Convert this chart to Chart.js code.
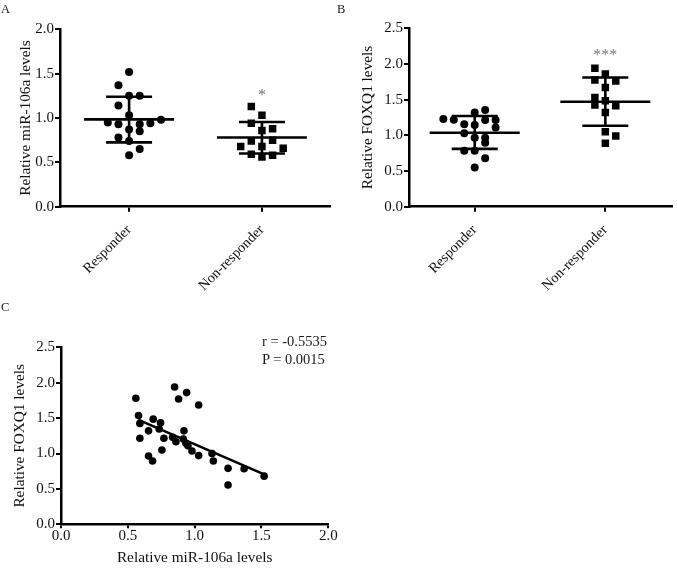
<!DOCTYPE html>
<html>
<head>
<meta charset="utf-8">
<script src="https://cdn.jsdelivr.net/npm/chart.js@4.4.0/dist/chart.umd.min.js"></script>
<style>
  body { margin: 0; background: #fff; }
  #page { position: relative; width: 677px; height: 568px; overflow: hidden; font-family: 'Liberation Serif', 'Times New Roman', serif; }
  .box { position: absolute; }
  .txt { position: absolute; line-height: 1; color: #1a1a1a; white-space: nowrap; }
</style>
</head>
<body>
<div id="page">
  <div class="box" style="left:0;top:0;"><canvas id="chartA" width="335" height="300"></canvas></div>
  <div class="box" style="left:335px;top:0;"><canvas id="chartB" width="342" height="300"></canvas></div>
  <div class="box" style="left:0;top:295px;"><canvas id="chartC" width="340" height="273"></canvas></div>
  <div class="txt" style="left:1px;top:3px;font-size:12.5px;">A</div>
  <div class="txt" style="left:337px;top:3px;font-size:12.5px;">B</div>
  <div class="txt" style="left:1px;top:301px;font-size:12.5px;">C</div>
  <div class="txt" style="left:262px;top:334px;font-size:14.5px;">r = -0.5535</div>
  <div class="txt" style="left:262px;top:351.5px;font-size:14.5px;">P = 0.0015</div>
</div>
<script>
// groups on the x axis of panels A and B
const groups = ['Responder', 'Non-responder'];

// Panel A: miR-106a levels, dot columns
const mirResponder = [1.52, 1.37, 1.25, 1.25, 1.14, 1.03, 0.95, 0.93, 0.87, 0.93, 0.94, 0.98, 0.85, 0.78, 0.74, 0.65, 0.58];
const mirResponderCol = [0, -1, 0, 1, -1, 0, -2, -1, 0, 1, 2, 3, 1, -1, 0, 1, 0];
const mirNonResponder = [1.13, 1.03, 0.94, 0.88, 0.86, 0.74, 0.75, 0.68, 0.68, 0.66, 0.59, 0.56, 0.58];
const mirNonResponderCol = [-1, 0, -1, 1, 0, -1, 1, 0, -2, 2, -1, 0, 1];
const mirMean = [0.985, 0.78];
const mirUpper = [1.24, 0.955];
const mirLower = [0.725, 0.60];
const mirStars = ['', '*'];
const mirStarLevel = [null, 1.245];

// Panel B: FOXQ1 levels
const foxResponder = [1.23, 1.22, 1.32, 1.355, 1.155, 1.145, 1.215, 1.215, 1.11, 1.03, 0.965, 0.965, 0.895, 0.785, 0.785, 0.68, 0.55];
const foxResponderCol = [-3, -2, 0, 1, -1, 0, 1, 2, 2, -1, 0, 1, 1, -1, 0, 1, 0];
const foxNonResponder = [1.94, 1.86, 1.775, 1.76, 1.67, 1.53, 1.425, 1.485, 1.415, 1.32, 1.05, 0.99, 0.89];
const foxNonResponderCol = [-1, 0, -1, 1, 0, -1, -1, 0, 1, 0, 0, 1, 0];
const foxMean = [1.037, 1.47];
const foxUpper = [1.27, 1.81];
const foxLower = [0.81, 1.135];
const foxStars = ['', '***'];
const foxStarLevel = [null, 2.11];

// Panel C: correlation
const corrMir = [0.85, 0.94, 0.88, 1.03, 0.56, 0.58, 0.59, 0.69, 0.745, 0.655, 0.735, 0.59, 0.77, 0.92, 0.835, 0.86, 0.915, 0.935, 0.95, 0.98, 0.755, 1.03, 1.13, 1.14, 0.655, 0.685, 1.25, 1.37, 1.52, 1.25];
const corrFox = [1.94, 1.86, 1.77, 1.685, 1.78, 1.535, 1.425, 1.485, 1.435, 1.32, 1.345, 1.215, 1.215, 1.32, 1.23, 1.165, 1.205, 1.145, 1.11, 1.035, 1.05, 0.97, 1.0, 0.895, 0.965, 0.895, 0.79, 0.785, 0.68, 0.555];
const fitMir = [0.58, 1.52];
const fitFox = [1.475, 0.705];

const yMaxAB = { A: 2, B: 2.5 };

const FONT = "'Liberation Serif', 'Times New Roman', serif";
const INK = '#111';
const colStep = 0.08;   // horizontal spacing of dot columns, in group units

Chart.defaults.animation = false;
Chart.defaults.font.family = FONT;

// mean line, SD whiskers and significance stars
const meanSdPlugin = {
  id: 'meanSd',
  afterDatasetsDraw(chart, args, opts) {
    if (!opts.mean) return;
    const { ctx } = chart;
    const x = chart.scales.x, y = chart.scales.y;
    ctx.save();
    ctx.strokeStyle = '#000';
    ctx.lineWidth = 2.6;
    opts.mean.forEach((m, i) => {
      const cx = x.getPixelForValue(i);
      const ym = y.getPixelForValue(m);
      const yu = y.getPixelForValue(opts.upper[i]);
      const yl = y.getPixelForValue(opts.lower[i]);
      ctx.beginPath();
      ctx.moveTo(cx - 45, ym); ctx.lineTo(cx + 45, ym);
      ctx.moveTo(cx - 23, yu); ctx.lineTo(cx + 23, yu);
      ctx.moveTo(cx - 23, yl); ctx.lineTo(cx + 23, yl);
      ctx.moveTo(cx, yu); ctx.lineTo(cx, yl);
      ctx.stroke();
      if (opts.stars[i]) {
        ctx.fillStyle = '#777';
        ctx.font = '16px ' + FONT;
        ctx.textAlign = 'center';
        ctx.textBaseline = 'middle';
        ctx.fillText(opts.stars[i], cx, y.getPixelForValue(opts.starLevel[i]));
      }
    });
    ctx.restore();
  }
};

function groupPoints(values, cols, g) {
  return values.map((v, i) => ({ x: g + cols[i] * colStep, y: v }));
}

function yAxis(max, title, width, titlePad) {
  return {
    min: 0, max: max,
    ticks: { stepSize: 0.5, color: INK, padding: 1, font: { size: 15 }, callback: v => v.toFixed(1) },
    grid: { drawOnChartArea: false, drawTicks: true, tickLength: 5, color: '#000', lineWidth: 2 },
    border: { color: '#000', width: 2.5 },
    title: { display: true, text: title, color: INK, font: { size: 15.3 }, padding: { top: titlePad, bottom: 0 } },
    afterFit: s => { s.width = width; }
  };
}

function groupAxis(min, max) {
  return {
    type: 'linear', min: min, max: max,
    afterBuildTicks: s => { s.ticks = groups.map((g, i) => ({ value: i })); },
    ticks: { autoSkip: false, minRotation: 45, maxRotation: 45, padding: 10, color: INK, font: { size: 14.3 },
             callback: v => groups[v] },
    grid: { drawOnChartArea: false, drawTicks: true, tickLength: 5, color: '#000', lineWidth: 2 },
    border: { color: '#000', width: 2.5 },
    afterFit: s => { s.height = 93.3; }
  };
}

function groupChart(id, resp, respCol, non, nonCol, mean, upper, lower, stars, starLevel, yMax, yTitle, yWidth, titlePad, xMin, xMax, padTop, padRight) {
  return new Chart(document.getElementById(id), {
    type: 'scatter',
    data: {
      datasets: [
        { label: groups[0], data: groupPoints(resp, respCol, 0), pointStyle: 'circle', pointRadius: 4,
          backgroundColor: '#000', borderWidth: 0 },
        { label: groups[1], data: groupPoints(non, nonCol, 1), pointStyle: 'rect', pointRadius: 5.3,
          backgroundColor: '#000', borderWidth: 0 }
      ]
    },
    options: {
      responsive: false,
      layout: { padding: { top: padTop, right: padRight, left: 0, bottom: 0 } },
      scales: { x: groupAxis(xMin, xMax), y: yAxis(yMax, yTitle, yWidth, titlePad) },
      plugins: {
        legend: { display: false },
        tooltip: { enabled: false },
        meanSd: { mean, upper, lower, stars, starLevel }
      }
    },
    plugins: [meanSdPlugin]
  });
}

groupChart('chartA', mirResponder, mirResponderCol, mirNonResponder, mirNonResponderCol,
  mirMean, mirUpper, mirLower, mirStars, mirStarLevel, yMaxAB.A, 'Relative miR-106a levels', 60, 17, -0.52, 1.51, 29.3, 5);

groupChart('chartB', foxResponder, foxResponderCol, foxNonResponder, foxNonResponderCol,
  foxMean, foxUpper, foxLower, foxStars, foxStarLevel, yMaxAB.B, 'Relative FOXQ1 levels', 74, 24, -0.503, 1.508, 28.3, 0);

// Panel C: scatter with regression line
new Chart(document.getElementById('chartC'), {
  type: 'scatter',
  data: {
    datasets: [
      { label: 'Patients', data: corrMir.map((v, i) => ({ x: v, y: corrFox[i] })), pointRadius: 3.8,
        backgroundColor: '#000', borderWidth: 0 },
      { label: 'Fit', data: fitMir.map((v, i) => ({ x: v, y: fitFox[i] })), showLine: true, pointRadius: 0,
        borderColor: '#000', borderWidth: 2.6, fill: false }
    ]
  },
  options: {
    responsive: false,
    layout: { padding: { top: 52.3, right: 11.7, left: 0, bottom: 0 } },
    scales: {
      x: {
        type: 'linear', min: 0, max: 2,
        ticks: { stepSize: 0.5, color: INK, padding: 0, font: { size: 15, lineHeight: 1 }, maxRotation: 0,
                 callback: v => v.toFixed(1) },
        grid: { drawOnChartArea: false, drawTicks: true, tickLength: 4, color: '#000', lineWidth: 2 },
        border: { color: '#000', width: 2.5 },
        title: { display: true, text: 'Relative miR-106a levels', color: INK, font: { size: 15.3 }, padding: { top: 0, bottom: 1 } },
        afterFit: s => { s.height = 43.7; }
      },
      y: yAxis(2.5, 'Relative FOXQ1 levels', 61, 11)
    },
    plugins: { legend: { display: false }, tooltip: { enabled: false } }
  }
});
</script>
</body>
</html>
